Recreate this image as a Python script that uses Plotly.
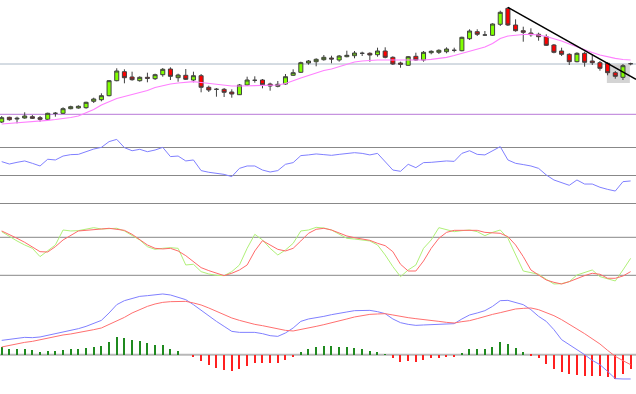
import plotly.graph_objects as go

# ---------------- data ----------------
idx = list(range(83))

opens = [78, 82.7, 81, 82, 83.3, 82.3, 80.7, 86.7, 86.7, 91.3, 92, 92.3, 98.7, 100.3, 104.3, 119.3, 128.3, 123, 119.3, 122.7,
         121.3, 125.3, 131, 122.3, 124.7, 120, 124.3, 112.7, 110.7, 110.7, 108, 105.3, 115, 119.7, 120, 116, 113.7, 116, 124.7, 127.7,
         137, 138.3, 140.3, 142, 140, 143.3, 144.3, 146.7, 146.7, 145.3, 149, 142.7, 137, 134.7, 143.7, 140, 147.3, 147.7, 148.3, 149.7,
         149.3, 161.3, 168.3, 165, 164.7, 175.7, 191.7, 175, 169.3, 167, 165.7, 163.3, 155, 149, 145.7, 138.3, 146.7, 139, 137.3, 136.7,
         127.3, 122.7, 136.3]
highs = [84, 83.3, 83.3, 87.7, 85, 84, 87.3, 88, 92.7, 94.3, 94.7, 98.3, 102.3, 106.7, 120, 131.7, 130.7, 128.3, 123.7, 127.3,
         126.3, 132, 132.7, 126.3, 131, 128.3, 126, 114.3, 112, 112, 110.7, 116, 123.3, 123.7, 121, 117.3, 119, 126, 130.7, 138.3,
         140, 141.7, 145, 144.3, 145, 149.3, 149, 148.3, 147.7, 152.3, 152.7, 143.7, 138.3, 144, 147.3, 149, 149.7, 150.7, 152.7, 152.3,
         163.3, 170.7, 170.7, 169, 176.7, 189.3, 193, 180.7, 173.3, 171.7, 167.3, 165.7, 156, 152.3, 146.7, 147.7, 148.3, 146, 139, 137.7,
         129, 136, 137.3]
lows = [77, 79.3, 76.7, 81.3, 81, 78.3, 80, 83.3, 86, 90.7, 91.3, 91.3, 97, 98.7, 103.7, 118.7, 116.7, 119.3, 118.3, 117.7,
        120, 123.3, 120, 118.3, 120, 117.7, 107.7, 108, 103.3, 103, 102.3, 105, 114, 117.3, 111.7, 109.3, 112.7, 115.3, 124, 127,
        135.3, 133.7, 139.3, 136.7, 138.3, 142.7, 141.7, 144, 138.3, 143.3, 141.7, 135, 132.3, 134.3, 139.3, 138.3, 145.7, 146, 146.7, 147.7,
        148.7, 160, 164, 164.3, 164, 174, 174, 168.3, 158.3, 163.3, 159.3, 154, 146.7, 144, 135, 137.7, 133.3, 135, 129.3, 124.7,
        121.3, 120, 134.7]
closes = [82.3, 80.3, 81.7, 84, 81.7, 80.7, 86.7, 86.7, 91.3, 93.3, 93.7, 97.7, 101, 104.3, 119.3, 129, 122.3, 120.3, 122.7, 121.7,
          125.3, 130.7, 123.7, 125, 120.7, 124.3, 112.7, 110, 110.7, 107.7, 106, 115, 120, 119.7, 115.3, 114, 115.7, 123.3, 127.3, 137.3,
          139, 140.7, 142.7, 141, 144, 144.7, 147, 146.7, 145, 149, 142.7, 136, 135.7, 143.3, 140, 147.7, 148.7, 149.7, 151, 149.7,
          162.7, 169, 165.7, 165, 176, 187.7, 175, 169.3, 167.7, 165.3, 163.3, 154.7, 147.7, 145.7, 138.3, 146.7, 137.7, 137.3, 131.7, 127.3,
          123.7, 134.3, 136.3]
ma = [76, 76.5, 77, 77.5, 78.3, 79, 79.7, 80.5, 81.3, 82.5, 84, 87, 90.5, 95, 98.5, 101.5, 103.5, 105.5, 107.3, 109.5,
      112.5, 114.5, 116, 117, 117.7, 118.3, 117.5, 116.5, 115.3, 114.5, 114, 114, 114.3, 114.5, 114.5, 114.7, 115, 116.5, 119.5, 122,
      124.5, 127, 129.5, 131, 133.5, 136, 138, 139, 139.7, 140, 140, 140, 139.7, 139.5, 139.3, 140, 140.7, 141.5, 142.7, 144.5,
      146.5, 148.5, 150.5, 153, 156.5, 161.5, 164, 165, 165.5, 165.7, 165, 163.5, 161.5, 159, 156, 153, 150, 147.5, 145, 143,
      141.7, 140.5, 140]

level_hi = 136      # grey horizontal level
level_lo = 85.7     # purple horizontal level
trend_x = [66, 82.7]
trend_y = [192.7, 120.7]
zone_x = [78.9, 81.9]
zone_y = [117, 136]

rsi = [59.9, 58.2, 59.4, 60.4, 58.7, 56.8, 61.6, 61.1, 63.9, 64.9, 65.1, 67.0, 68.9, 70.1, 74.2, 75.8, 69.9, 67.7, 68.7, 67.0,
       68.2, 70.1, 63.5, 63.9, 60.4, 61.1, 53.5, 52.3, 51.8, 50.8, 49.2, 55.1, 56.8, 56.8, 53.9, 52.5, 53.5, 58.0, 59.2, 64.2,
       64.7, 65.4, 64.9, 64.4, 65.1, 65.8, 66.3, 65.8, 64.7, 65.8, 59.9, 53.9, 53.0, 58.0, 55.6, 59.2, 59.4, 59.9, 60.4, 60.1,
       65.8, 67.7, 65.1, 64.7, 67.7, 70.6, 61.1, 58.7, 57.8, 56.8, 55.1, 50.4, 46.8, 45.1, 43.0, 46.8, 43.9, 43.9, 41.6, 40.1,
       38.9, 45.6, 46.1]
rsi_levels = [70, 50, 30]

stoch_k = [88.9, 81.0, 74.2, 67.9, 62.6, 49.5, 58.4, 67.9, 91.5, 90.0, 90.5, 93.1, 95.2, 93.1, 94.2, 94.2, 90.0, 82.6, 75.8, 65.2,
           61.0, 62.6, 63.6, 62.6, 36.3, 37.4, 25.8, 22.1, 20.0, 19.5, 25.8, 36.3, 62.6, 84.7, 75.8, 62.6, 52.1, 60.0, 70.5, 90.0,
           91.5, 95.7, 94.7, 91.5, 84.7, 78.4, 77.3, 75.8, 74.2, 67.9, 52.1, 33.7, 17.9, 28.4, 36.3, 62.6, 75.8, 95.2, 91.5, 88.9,
           90.5, 91.5, 88.9, 82.6, 87.8, 91.5, 78.4, 52.1, 26.8, 24.2, 21.6, 13.7, 6.3, 6.8, 10.0, 20.5, 24.7, 28.4, 17.9, 14.2,
           11.1, 28.4, 46.8]
stoch_d = [90.0, 84.7, 78.4, 72.1, 65.2, 57.3, 56.8, 65.2, 75.8, 83.6, 90.0, 91.0, 92.6, 93.1, 94.2, 92.6, 91.0, 84.7, 75.8, 67.9,
           62.6, 61.6, 62.6, 58.4, 51.0, 41.6, 32.1, 27.4, 23.2, 19.5, 23.2, 28.4, 36.3, 58.4, 74.7, 67.9, 61.0, 58.4, 62.6, 74.2,
           86.3, 92.6, 94.2, 91.5, 86.3, 82.1, 79.4, 77.3, 75.2, 70.5, 66.8, 57.3, 37.4, 26.8, 26.8, 42.6, 62.6, 78.4, 87.8, 91.0,
           91.0, 91.5, 91.0, 87.8, 86.8, 86.3, 81.0, 67.9, 49.5, 28.4, 20.5, 12.6, 8.9, 6.3, 10.0, 15.3, 19.5, 23.2, 21.6, 15.3,
           15.3, 18.9, 25.8]
stoch_levels = [80, 20]

macd = [0.143, 0.150, 0.163, 0.173, 0.170, 0.177, 0.193, 0.207, 0.227, 0.243, 0.260, 0.283, 0.310, 0.343, 0.417, 0.500, 0.540, 0.563, 0.583, 0.590,
        0.597, 0.607, 0.597, 0.577, 0.550, 0.500, 0.443, 0.390, 0.333, 0.283, 0.233, 0.223, 0.223, 0.223, 0.210, 0.190, 0.183, 0.217, 0.267, 0.333,
        0.357, 0.367, 0.383, 0.400, 0.417, 0.427, 0.440, 0.443, 0.443, 0.430, 0.410, 0.357, 0.320, 0.303, 0.293, 0.297, 0.300, 0.303, 0.307, 0.310,
        0.357, 0.397, 0.417, 0.440, 0.483, 0.540, 0.543, 0.523, 0.500, 0.450, 0.383, 0.333, 0.250, 0.150, 0.100, 0.057, 0.000, -0.057, -0.100, -0.167,
        -0.240, -0.243, -0.243]
signal = [0.077, 0.093, 0.110, 0.123, 0.133, 0.150, 0.163, 0.180, 0.197, 0.207, 0.220, 0.233, 0.250, 0.267, 0.300, 0.333, 0.373, 0.417, 0.450, 0.483,
          0.507, 0.523, 0.530, 0.533, 0.533, 0.517, 0.497, 0.467, 0.433, 0.400, 0.367, 0.343, 0.320, 0.303, 0.290, 0.273, 0.253, 0.243, 0.237, 0.250,
          0.267, 0.283, 0.300, 0.317, 0.337, 0.357, 0.377, 0.393, 0.403, 0.407, 0.410, 0.397, 0.380, 0.370, 0.360, 0.353, 0.343, 0.333, 0.323, 0.317,
          0.330, 0.340, 0.360, 0.383, 0.403, 0.420, 0.437, 0.457, 0.463, 0.467, 0.450, 0.423, 0.390, 0.350, 0.300, 0.257, 0.210, 0.157, 0.107, 0.043,
          -0.017, -0.060, -0.100]
hist = [0.073, 0.057, 0.057, 0.057, 0.047, 0.030, 0.040, 0.040, 0.047, 0.057, 0.057, 0.063, 0.073, 0.083, 0.127, 0.177, 0.167, 0.147, 0.137, 0.113,
        0.093, 0.093, 0.057, 0.037, 0.0, -0.020, -0.063, -0.103, -0.130, -0.153, -0.160, -0.140, -0.113, -0.087, -0.083, -0.087, -0.080, -0.053, -0.020, 0.027,
        0.057, 0.080, 0.087, 0.087, 0.080, 0.073, 0.067, 0.053, 0.040, 0.030, 0.003, -0.037, -0.070, -0.060, -0.070, -0.053, -0.037, -0.030, -0.023, -0.023,
        0.020, 0.053, 0.060, 0.060, 0.080, 0.127, 0.107, 0.063, 0.027, -0.007, -0.037, -0.093, -0.143, -0.177, -0.193, -0.203, -0.210, -0.213, -0.213, -0.227,
        -0.247, -0.193, -0.147]

# ---------------- figure ----------------
W, H = 636, 394

def dom(y_top, y_bot):
    return [1 - y_bot / H, 1 - y_top / H]

fig = go.Figure()

fig.add_trace(go.Candlestick(
    x=idx, open=opens, high=highs, low=lows, close=closes,
    increasing=dict(fillcolor="#80ff00", line=dict(color="#404040", width=1)),
    decreasing=dict(fillcolor="#ff0000", line=dict(color="#404040", width=1)),
    whiskerwidth=0, xaxis="x", yaxis="y", showlegend=False, hoverinfo="skip"))
fig.add_trace(go.Scatter(x=idx, y=ma, mode="lines", line=dict(color="#ff80ff", width=1.2),
                         xaxis="x", yaxis="y", showlegend=False, hoverinfo="skip"))
fig.add_trace(go.Scatter(x=trend_x, y=trend_y, mode="lines", line=dict(color="#000000", width=1.5),
                         xaxis="x", yaxis="y", showlegend=False, hoverinfo="skip"))

fig.add_trace(go.Scatter(x=idx, y=rsi, mode="lines", line=dict(color="#8080ff", width=1),
                         xaxis="x", yaxis="y2", showlegend=False, hoverinfo="skip"))

fig.add_trace(go.Scatter(x=idx, y=stoch_k, mode="lines", line=dict(color="#b0f078", width=1),
                         xaxis="x", yaxis="y3", showlegend=False, hoverinfo="skip"))
fig.add_trace(go.Scatter(x=idx, y=stoch_d, mode="lines", line=dict(color="#ff6a6a", width=1),
                         xaxis="x", yaxis="y3", showlegend=False, hoverinfo="skip"))

bar_colors = ["#1f8a1f" if v >= 0 else "#ff2020" for v in hist]
fig.add_trace(go.Bar(x=idx, y=hist, width=0.15, marker=dict(color=bar_colors, line=dict(width=0)),
                     xaxis="x", yaxis="y4", showlegend=False, hoverinfo="skip"))
fig.add_trace(go.Scatter(x=idx, y=macd, mode="lines", line=dict(color="#8080ff", width=1),
                         xaxis="x", yaxis="y4", showlegend=False, hoverinfo="skip"))
fig.add_trace(go.Scatter(x=idx, y=signal, mode="lines", line=dict(color="#ff7070", width=1),
                         xaxis="x", yaxis="y4", showlegend=False, hoverinfo="skip"))

shapes = []
# price panel levels and zone
shapes.append(dict(type="line", xref="paper", yref="y", x0=0, x1=1, y0=level_hi, y1=level_hi,
                   line=dict(color="#aab8c6", width=1), layer="below"))
shapes.append(dict(type="line", xref="paper", yref="y", x0=0, x1=1, y0=level_lo, y1=level_lo,
                   line=dict(color="#b878d8", width=1), layer="below"))
shapes.append(dict(type="rect", xref="x", yref="y", x0=zone_x[0], x1=zone_x[1], y0=zone_y[0], y1=zone_y[1],
                   fillcolor="#d4d4d4", line=dict(width=0), layer="below"))
for lv in rsi_levels:
    shapes.append(dict(type="line", xref="paper", yref="y2", x0=0, x1=1, y0=lv, y1=lv,
                       line=dict(color="#888888", width=1), layer="below"))
for lv in stoch_levels:
    shapes.append(dict(type="line", xref="paper", yref="y3", x0=0, x1=1, y0=lv, y1=lv,
                       line=dict(color="#888888", width=1), layer="below"))
shapes.append(dict(type="line", xref="paper", yref="y4", x0=0, x1=1, y0=0, y1=0,
                   line=dict(color="#b8b8b8", width=2), layer="below"))

ax_common = dict(showgrid=False, zeroline=False, showticklabels=False, ticks="", showline=False, fixedrange=True)

fig.update_layout(
    width=W, height=H, margin=dict(l=0, r=0, t=0, b=0),
    paper_bgcolor="white", plot_bgcolor="white",
    showlegend=False, boxgap=0.25, bargap=0,
    shapes=shapes,
    xaxis=dict(range=[-0.22, 82.7], domain=[0, 1], rangeslider=dict(visible=False), **ax_common),
    yaxis=dict(domain=dom(0, 128), range=[72, 200], anchor="x", **ax_common),
    yaxis2=dict(domain=dom(130, 210), range=[25.36, 82.5], anchor="x", **ax_common),
    yaxis3=dict(domain=dom(215, 290), range=[-3.2, 115.2], anchor="x", **ax_common),
    yaxis4=dict(domain=dom(290, 394), range=[-0.3933, 0.6467], anchor="x", **ax_common),
)

fig.write_html("out.html", config={"displayModeBar": False},
               post_script="document.body.style.margin='0';document.body.style.overflow='hidden';")
